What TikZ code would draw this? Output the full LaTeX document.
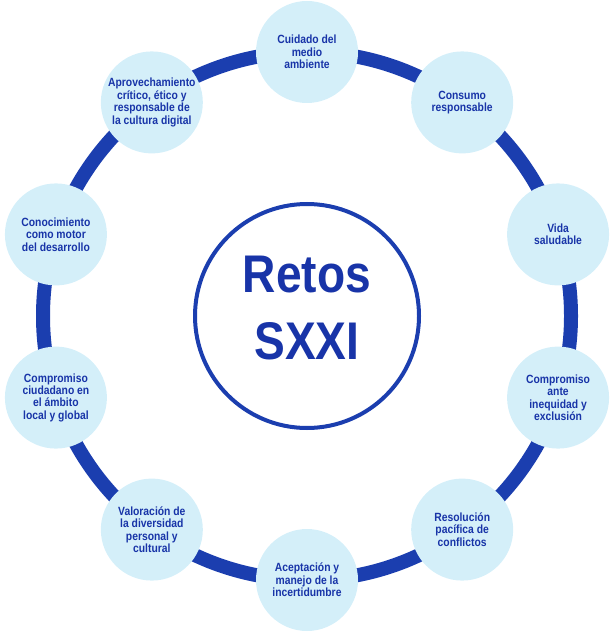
\documentclass[tikz,border=0pt]{standalone}
\usepackage{fontspec}
\setmainfont[FakeStretch=0.87]{Liberation Sans}
\definecolor{ringblue}{RGB}{27,62,175}
\definecolor{textblue}{RGB}{24,52,168}
\definecolor{bubble}{RGB}{212,239,249}
\tikzset{
  ring/.style={draw=ringblue,line width=14pt},
  bubblenode/.style={circle,fill=bubble,minimum size=102pt,inner sep=0pt,align=center,
    text=textblue,font=\bfseries\fontsize{11.9}{12.4}\selectfont},
  hub/.style={circle,draw=ringblue,line width=4pt,fill=white,minimum size=224pt,inner sep=0pt},
  hubtext/.style={align=center,text=textblue,font=\bfseries\fontsize{53}{67}\selectfont}
}
\begin{document}
\begin{tikzpicture}[x=1pt,y=-1pt]
\useasboundingbox (0,0) rectangle (614,639);
\coordinate (c) at (307,316);
\draw[ring] (c) circle[radius=264];
\foreach \a/\t [count=\i] in {
  90/{Cuidado del\\medio\\ambiente},
  54/{Consumo\\responsable},
  18/{Vida\\saludable},
  -18/{Compromiso\\ante\\inequidad y\\exclusión},
  -54/{Resolución\\pacífica de\\conflictos},
  -90/{Aceptación y\\manejo de la\\incertidumbre},
  -126/{Valoración de\\la diversidad\\personal y\\cultural},
  -162/{Compromiso\\ciudadano en\\el ámbito\\local y global},
  162/{Conocimiento\\como motor\\del desarrollo},
  126/{Aprovechamiento\\crítico, ético y\\responsable de\\la cultura digital}}
{
  \node[bubblenode] (n\i) at ({307+264*cos(\a)},{316-264*sin(\a)}) {\t};
}
\node[hub] (hub) at (307,316) {};
\node[hubtext] (title) at (307,308) {Retos\\SXXI};
\end{tikzpicture}
\end{document}
